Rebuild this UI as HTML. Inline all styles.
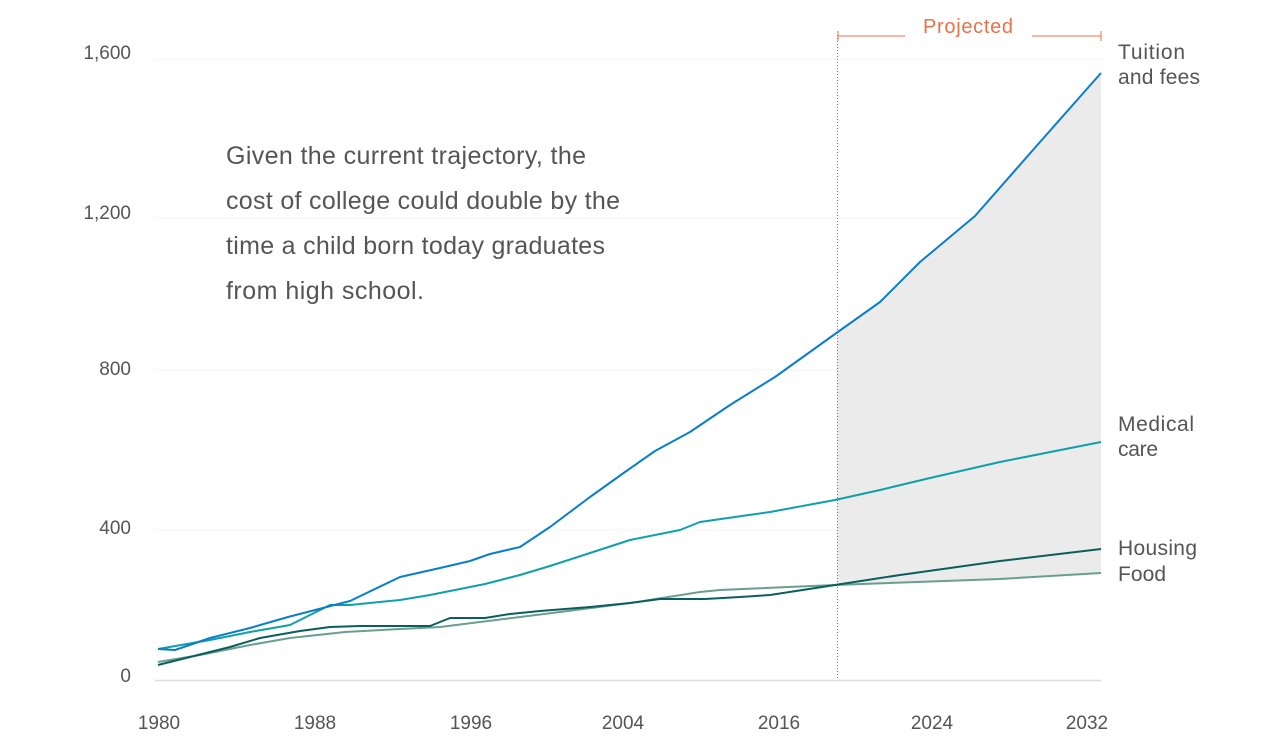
<!DOCTYPE html>
<html><head><meta charset="utf-8"><style>
body{margin:0;background:#fff;}
svg{display:block;font-family:"Liberation Sans",sans-serif;}
</style></head><body>
<svg width="1280" height="752" viewBox="0 0 1280 752">
<g stroke="#ececec" stroke-width="1" stroke-dasharray="2,2">
<line x1="155" y1="59" x2="1101" y2="59"/><line x1="155" y1="218" x2="1101" y2="218"/>
<line x1="155" y1="370" x2="1101" y2="370"/><line x1="155" y1="530" x2="1101" y2="530"/>
</g>
<line x1="155" y1="680.5" x2="1101" y2="680.5" stroke="#ddd" stroke-width="1.5"/>
<polygon fill="#ebebeb" points="837,333 880,302 920,262 975,216 1040,142 1101,73 1101,573 1000,579 837,585"/>
<line x1="837.5" y1="35" x2="837.5" y2="680" stroke="#777" stroke-width="1" stroke-dasharray="1,2"/>
<g stroke="#e8734a" stroke-width="1">
<line x1="838" y1="36" x2="905" y2="36"/><line x1="838" y1="31" x2="838" y2="41"/>
<line x1="1032" y1="36" x2="1101" y2="36"/><line x1="1101" y1="31" x2="1101" y2="41"/>
</g>
<text x="923" y="33" fill="#e8734a" font-size="20" textLength="90">Projected</text>
<g fill="#555" font-size="19" text-anchor="end">
<text x="131" y="59">1,600</text><text x="131" y="219">1,200</text><text x="131" y="375">800</text><text x="131" y="534">400</text><text x="131" y="682">0</text>
</g>
<g fill="#555" font-size="19" text-anchor="middle">
<text x="159" y="729">1980</text><text x="315" y="729">1988</text><text x="471" y="729">1996</text><text x="623" y="729">2004</text><text x="779" y="729">2016</text><text x="932" y="729">2024</text><text x="1087" y="729">2032</text>
</g>
<g fill="none" stroke-width="2" stroke-linejoin="round">
<polyline stroke="#6a9e90" points="158,662 200,655 250,645 290,638 345,632 400,629 440,627 480,622 520,617 560,612 630,603 700,592 720,590 835,585 1000,579 1101,573"/>
<polyline stroke="#0b5e5e" points="158,665 190,657 230,647 260,638 300,631 330,627 360,626 430,626 450,618 485,618 510,614 540,611 590,607 630,603 660,599 705,599 740,597 770,595 835,585 900,575 1000,561 1101,549"/>
<polyline stroke="#10a0a8" points="158,649 210,640 250,632 290,625 330,605 350,605 400,600 430,595 460,589 485,584 520,575 550,566 590,553 630,540 680,530 700,522 735,517 770,512 835,500 880,490 930,478 1000,462 1101,442"/>
<polyline stroke="#0a7ecb" points="158,649 175,650 210,638 250,628 288,617 350,601 400,577 440,568 470,561 490,554 520,547 550,527 590,497 625,472 655,451 690,432 730,405 775,377 835,334 880,302 920,262 975,216 1040,142 1101,73"/>
</g>
<g fill="#555" font-size="21">
<text x="1118" y="59" textLength="67">Tuition</text><text x="1118" y="84" textLength="82">and fees</text>
<text x="1118" y="431" textLength="76">Medical</text><text x="1118" y="456" textLength="40">care</text>
<text x="1118" y="555" textLength="79">Housing</text><text x="1118" y="581" textLength="48">Food</text>
</g>
<g fill="#555" font-size="25">
<text x="226" y="164" textLength="360">Given the current trajectory, the</text>
<text x="226" y="209" textLength="394">cost of college could double by the</text>
<text x="226" y="254" textLength="379">time a child born today graduates</text>
<text x="226" y="299" textLength="198">from high school.</text>
</g>
</svg>
</body></html>
